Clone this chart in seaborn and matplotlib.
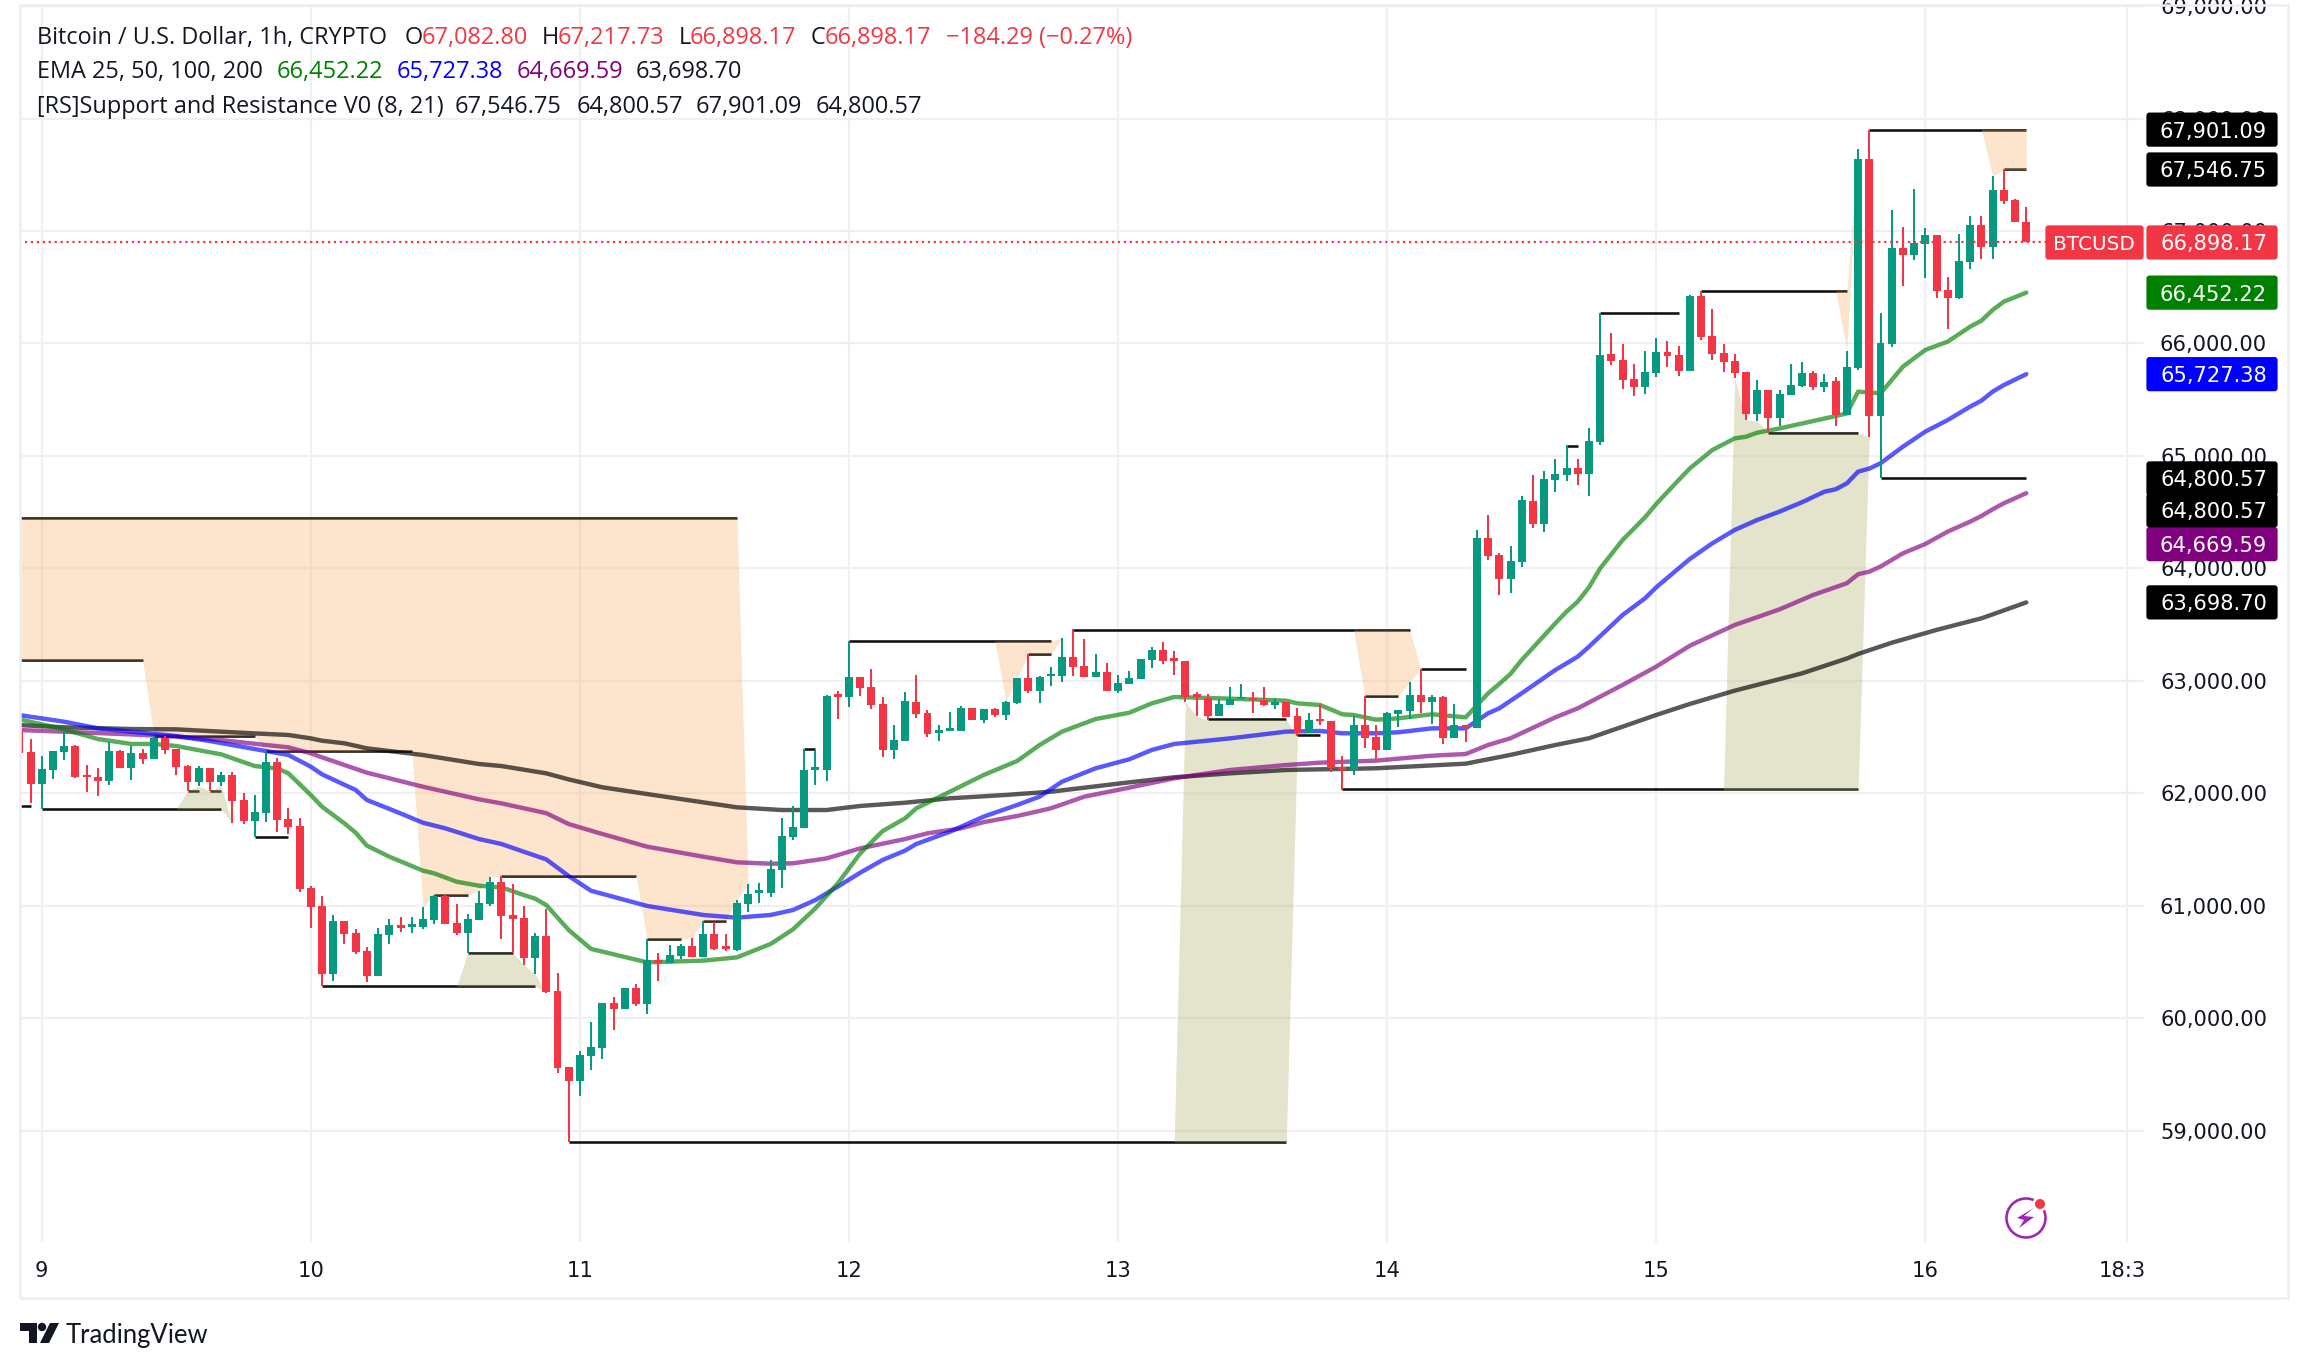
import numpy as np
import pandas as pd
import seaborn as sns
import matplotlib
matplotlib.use("Agg")
import matplotlib.pyplot as plt
from matplotlib.patches import Rectangle, FancyBboxPatch, Polygon, Circle
from matplotlib.transforms import IdentityTransform, ScaledTranslation

# ---------- data ----------
hours = list(range(-2, 178))
opens = [62564,62368,62084,62208,62368,62422,62164,62146,62111,62377,62226,62360,62306,62493,62395,62244,62102,62226,62102,62164,
         61942,61755,61826,62280,61773,61711,61160,61000,60395,60866,60759,60600,60377,60742,60831,60816,60813,60875,61088,60848,
         60759,60875,61017,61213,60920,60893,60537,60733,60244,59568,59444,59666,59738,60137,60084,60271,60129,60520,60493,60555,
         60644,60546,60751,60635,60609,61018,61118,61115,61320,61613,61693,62212,62209,62875,62858,63035,62946,62795,62386,62466,
         62813,62715,62541,62558,62555,62760,62653,62751,62698,62804,63026,62911,63044,63044,63213,63133,63036,63080,62911,62973,
         63018,63187,63276,63193,63178,62876,62849,62689,62787,62840,62849,62831,62787,62813,62689,62538,62662,62644,62230,62209,
         62609,62502,62387,62707,62733,62876,62813,62858,62493,62609,62583,64271,64120,63907,64058,64600,64396,64787,64832,64894,
         64840,65124,65906,65853,65684,65613,65737,65924,65897,65755,66422,66066,65915,65844,65746,65373,65586,65337,65542,65622,
         65737,65613,65666,65364,65783,67640,65359,65996,66849,66787,66885,66965,66476,66405,66725,67054,66858,67365,67276,67082.80]
highs = [62570,62484,62333,62377,62549,62431,62253,62226,62457,62386,62422,62395,62511,62511,62395,62253,62244,62226,62191,62191,
         62004,61986,62377,62315,61871,61782,61177,61088,60920,60866,60795,60635,60804,60884,60902,60902,60991,61097,61097,61017,
         60928,61133,61257,61266,61195,61000,60759,60973,60404,59568,59711,59969,60137,60191,60271,60306,60706,60582,60653,60662,
         60715,60866,60858,60751,61053,61195,61204,61409,61782,61889,62395,62386,62875,62911,63355,63035,63106,62858,62609,62902,
         63053,62742,62609,62724,62778,62760,62751,62760,62822,63026,63240,63044,63124,63382,63459,63373,63240,63160,63053,63089,
         63196,63302,63347,63267,63178,62902,62884,62840,62947,62973,62902,62947,62849,62813,62760,62716,62796,62644,62333,62689,
         62867,62609,62724,62742,62991,63107,62876,62867,62796,62609,64343,64476,64138,64200,64645,64832,64867,64974,65098,64974,
         65249,66268,66093,65995,65817,65933,66048,66022,65977,66431,66466,66306,65995,65906,65746,65675,65586,65586,65817,65835,
         65755,65728,65702,65933,67729,67901.09,66272,67187,67036,67374,67027,66965,66592,66974,67134,67134,67489,67546.75,67285,67217.73]
lows = [62363,61912,61862,62128,62297,62137,62013,61977,62075,62226,62120,62262,62306,62351,62164,62022,62066,62022,62066,61737,
        61728,61613,61746,61657,61640,61124,60804,60288,60333,60662,60573,60324,60377,60662,60768,60759,60795,60840,60840,60742,
        60582,60875,61000,60706,60582,60475,60395,60226,59515,58902,59311,59542,59640,59897,60084,60111,60040,60333,60493,60529,
        60546,60546,60609,60600,60600,60946,61026,61080,61160,61586,61693,62075,62111,62662,62769,62866,62751,62324,62306,62466,
        62671,62502,62466,62558,62555,62653,62626,62680,62653,62795,62893,62804,62956,62991,63044,63036,63036,62911,62893,62973,
        63018,63116,63151,63053,62813,62689,62653,62689,62787,62840,62716,62778,62751,62680,62511,62538,62609,62191,62031,62164,
        62404,62307,62387,62591,62662,62716,62618,62440,62493,62458,62583,64076,63765,63783,64014,64360,64325,64680,64778,64743,
        64645,65097,65808,65595,65533,65551,65702,65791,65711,65755,66031,65853,65746,65693,65320,65311,65204,65266,65542,65613,
        65586,65568,65266,65364,65765,65169,64800.57,65969,66512,66743,66583,66405,66129,66396,66663,66752,66752,67240,67080,66898.17]
closes = [62363,62084,62217,62377,62422,62146,62146,62111,62377,62226,62360,62306,62493,62386,62235,62102,62226,62102,62164,61933,
          61755,61835,62280,61764,61702,61151,60991,60395,60866,60751,60591,60377,60751,60831,60804,60831,60884,61088,60840,60759,
          60884,61026,61213,60911,60884,60537,60733,60235,59560,59444,59675,59746,60137,60084,60271,60129,60520,60493,60564,60644,
          60546,60751,60618,60618,61026,61106,61133,61329,61622,61702,62209,62226,62866,62858,63035,62938,62786,62386,62475,62822,
          62706,62529,62555,62573,62760,62653,62751,62698,62813,63026,62911,63036,63062,63213,63124,63036,63080,62911,62982,63027,
          63196,63276,63178,63178,62858,62858,62689,62796,62840,62852,62828,62787,62813,62680,62538,62653,62644,62227,62209,62609,
          62493,62387,62716,62742,62876,62813,62858,62493,62609,62591,64271,64111,63907,64067,64609,64396,64796,64840,64894,64840,
          65134,65897,65844,65675,65613,65746,65924,65888,65755,66422,66057,65906,65835,65737,65373,65586,65337,65551,65631,65737,
          65613,65657,65364,65791,67640,65359,66005,66849,66787,66894,66965,66467,66405,66734,67054,66858,67365,67267,67080,66898.17]

ema25_x = [-2,2,5,8,10,12,16,19,21,22,24,25,27,28,29,31,34,35,37,39,41,43,44,45,47,49,54,59,62,65,67,69,71,73,75,77,78,81,84,87,89,91,94,97,99,101,106,111,112,114,116,117,119,121,124,127,129,130,131,132,135,136,137,138,139,141,143,144,146,147,149,151,152,153,155,158,160,161,162,164,166,168,170,172,173,174,175,177]
ema25_y = [62659,62570,62484,62440,62440,62422,62348,62244,62223,62179,61986,61882,61734,61651,61536,61438,61314,61290,61216,61180,61165,61097,61065,61008,60786,60618,60499,60514,60543,60662,60792,60979,61201,61468,61666,61779,61868,62016,62164,62289,62431,62550,62662,62718,62801,62858,62843,62825,62801,62787,62704,62698,62656,62668,62704,62677,62890,62974,63063,63187,63513,63617,63706,63833,64002,64254,64455,64574,64787,64890,65053,65157,65171,65207,65245,65311,65355,65379,65572,65557,65794,65943,66017,66150,66203,66298,66372,66452.22]
ema50_x = [-2,2,5,8,12,15,19,22,24,25,28,29,32,34,36,39,41,43,45,47,49,54,59,62,65,67,69,71,73,75,77,78,81,84,87,89,91,94,97,99,101,106,111,114,116,119,121,124,127,129,130,132,135,136,137,138,141,143,144,146,147,149,151,153,155,157,159,160,161,162,163,164,166,168,170,172,173,174,175,177]
ema50_y = [62697,62638,62579,62549,62511,62466,62395,62342,62238,62170,62031,61942,61823,61740,61690,61595,61551,61482,61414,61266,61135,61000,60920,60896,60920,60964,61053,61172,61296,61409,61492,61551,61660,61794,61898,61972,62105,62224,62304,62387,62440,62490,62550,62556,62535,62535,62544,62579,62579,62713,62757,62891,63098,63157,63217,63305,63587,63735,63833,64002,64085,64224,64343,64431,64506,64589,64683,64704,64757,64861,64888,64935,65083,65217,65320,65439,65492,65572,65631,65727.38]
ema100_x = [-2,2,8,12,16,20,22,24,25,29,34,39,41,45,47,50,54,59,62,65,67,70,73,77,79,82,84,87,89,90,93,97,101,106,111,114,119,124,127,129,131,135,137,141,144,147,151,155,158,161,162,163,164,166,168,170,172,173,174,175,177]
ema100_y = [62564,62549,62525,62505,62475,62431,62410,62357,62321,62185,62060,61948,61912,61825,61728,61640,61527,61438,61388,61376,61379,61423,61512,61595,61646,61690,61745,61800,61845,61868,61972,62052,62135,62209,62253,62274,62292,62336,62351,62431,62491,62677,62757,62965,63128,63314,63498,63637,63765,63869,63949,63972,64017,64135,64218,64328,64417,64467,64526,64580,64669.59]
ema200_x = [-2,2,8,12,19,22,24,25,27,29,34,39,41,45,47,50,54,59,62,66,70,73,77,81,86,90,97,101,106,111,119,127,131,135,138,141,144,147,151,157,161,162,165,169,173,174,177]
ema200_y = [62608,62588,62573,62570,62534,62520,62490,62469,62446,62401,62342,62262,62244,62179,62125,62055,61995,61921,61877,61853,61853,61889,61918,61957,61987,62016,62099,62144,62179,62209,62224,62265,62343,62431,62491,62594,62698,62796,62914,63068,63200,63240,63340,63454,63557,63592,63698.70]

level_from = [-2,-2,10,20,-2,0,13,15,19,25,35,41,38,47,54,59,68,72,88,92,104,112,118,123,116,136,139,148,154,163,164,175]
level_to = [9,62,19,33,-1,16,14,16,22,44,38,53,42,111,57,61,69,90,90,122,111,114,121,127,162,137,146,161,162,177,177,177]
level_price = [63186,64449,62511,62377,61888,61862,62022,62022,61613,60288,61097,61266,60582,58902,60706,60866,62395,63355,63240,63453,62659,62517,62867,63107,62037,65089,66268,66466,65204,67901.09,64800.57,67546.75]

orange1_x = [-2,9,10,19,20,33,34,35,38,39,40,41,53,54,57,58,59,61,62,63]
orange1_lo = [63186,63186,62511,62511,62377,62377,60991,61097,61097,61133,61257,61266,61266,60706,60706,60715,60866,60866,61053,61195]
orange1_hi = [64449]*19 + [61195]
orange2_x = [85,86,87,88,90,91]
orange2_lo = [63355,62822,63026,63240,63240,63382]
orange2_hi = [63355,63355,63355,63355,63355,63382]
orange3_x = [117,118,121,122,123]
orange3_lo = [63453,62867,62867,62991,63107]
orange3_hi = [63453,63453,63453,63453,63107]
orange4_x = [160,161,162]
orange4_lo = [66466,65933,67729]
orange4_hi = [66466,66466,67729]
orange5_x = [173,174,175,177]
orange5_lo = [67901,67489,67546.75,67546.75]
orange5_hi = [67901,67901,67901,67901]
olive1_x = [12,13,14,15,16,17]
olive1_hi = [61862,62022,62066,62022,62066,61737]
olive1_lo = [61862,61862,61862,61862,61862,61737]
olive2_x = [37,38,42,43,44,45]
olive2_hi = [60288,60582,60582,60475,60395,60226]
olive2_lo = [60288,60288,60288,60288,60288,60226]
olive3_x = [101,102,103,104,111,112]
olive3_hi = [58902,62813,62689,62653,62653,62511]
olive3_lo = [58902,58902,58902,58902,58902,62511]
olive4_x = [150,151,152,153,154,162,163]
olive4_hi = [62031,65693,65320,65311,65204,65204,65169]
olive4_lo = [62031,62031,62031,62031,62031,62031,65169]

day_ticks = [0,24,48,72,96,120,144,168,186]
day_labels = ["9","10","11","12","13","14","15","16","18:3"]
price_ticks = [59000,60000,61000,62000,63000,64000,65000,66000,67000,68000,69000]

last_values = [67901.09,67546.75,66898.17,66452.22,65727.38,64800.57,64800.57,64669.59,63698.70]
last_texts = ["67,901.09","67,546.75","66,898.17","66,452.22","65,727.38","64,800.57","64,800.57","64,669.59","63,698.70"]
last_colors = ["#000000","#000000","#F23645","#008000","#0000FF","#000000","#000000","#800080","#000000"]
last_shift_px = [0,0,0,0,0,0,32,51,0]

# ---------- style ----------
sns.set_theme(style="white")
W, H = 2308, 1369
DPI = 100
INK = "#131722"
UP, DOWN = "#089981", "#F23645"
GRID = "#F0F0F3"
FRAME = "#EEEEF2"
HEAD = "Open Sans"
AXF = "DejaVu Sans"
px = 72 / DPI

fig = plt.figure(figsize=(W / DPI, H / DPI), dpi=DPI, facecolor="white")
AL, AR, AT, AB = 20, 2144, 5, 1242
ax = fig.add_axes([AL / W, 1 - AB / H, (AR - AL) / W, (AB - AT) / H])
ax.set_xlim(-1.94, 187.5)
ax.set_ylim(58013, 69009)
for s in ax.spines.values():
    s.set_visible(False)

ax.set_xticks(day_ticks)
ax.set_xticklabels(day_labels, fontsize=21 * px, color=INK, family=AXF)
ax.yaxis.tick_right()
ax.set_yticks(price_ticks)
ax.set_yticklabels([f"{p:,.2f}" for p in price_ticks], fontsize=21 * px, color=INK, family=AXF, ha="right")
ax.tick_params(axis="x", length=0, pad=19 * px)
ax.tick_params(axis="y", length=0, pad=123 * px)
ax.grid(True, color=GRID, lw=2.2 * px, zorder=0)
ax.set_axisbelow(True)

# levels (under the fills so that the fills tint them)
ax.hlines(level_price, level_from, level_to, color="#111111", lw=2.6 * px, zorder=2)

ORANGE, OLIVE = "#FCB26D", "#B2B26D"
for xs, lo, hi in [(orange1_x, orange1_lo, orange1_hi), (orange2_x, orange2_lo, orange2_hi),
                   (orange3_x, orange3_lo, orange3_hi), (orange4_x, orange4_lo, orange4_hi),
                   (orange5_x, orange5_lo, orange5_hi)]:
    ax.fill_between(xs, lo, hi, color=ORANGE, alpha=0.35, lw=0, zorder=3)
for xs, lo, hi in [(olive1_x, olive1_lo, olive1_hi), (olive2_x, olive2_lo, olive2_hi),
                   (olive3_x, olive3_lo, olive3_hi), (olive4_x, olive4_lo, olive4_hi)]:
    ax.fill_between(xs, lo, hi, color=OLIVE, alpha=0.35, lw=0, zorder=3)

# EMAs through seaborn
for xs, ys, col in [(ema200_x, ema200_y, "#000000"), (ema100_x, ema100_y, "#800080"),
                    (ema50_x, ema50_y, "#0000FF"), (ema25_x, ema25_y, "#008000")]:
    frame = pd.DataFrame({"hour": xs, "ema": ys})
    sns.lineplot(data=frame, x="hour", y="ema", color=col, alpha=0.65, lw=4.4 * px, ax=ax, zorder=4,
                 estimator=None, sort=False, legend=False)
ax.set_xlabel(""); ax.set_ylabel("")

# candles
ohlc = pd.DataFrame({"hour": hours, "open": opens, "high": highs, "low": lows, "close": closes})
ohlc["color"] = np.where(ohlc["close"] >= ohlc["open"], UP, DOWN)
ax.vlines(ohlc["hour"], ohlc["low"], ohlc["high"], colors=ohlc["color"], lw=2.0 * px, zorder=5)
body_low = ohlc[["open", "close"]].min(axis=1)
body_h = (ohlc["open"] - ohlc["close"]).abs().clip(lower=22)
ax.bar(ohlc["hour"], body_h, bottom=body_low, width=0.71, color=ohlc["color"], lw=0, zorder=5)

# last price line
ax.plot([-2, 180.2], [66898.17, 66898.17], color=DOWN, lw=2.2 * px, ls=(0, (1, 1.7)), zorder=5)

# the clipped time label sits a little left of its grid line
last_tick = ax.get_xticklabels()[-1]
last_tick.set_transform(last_tick.get_transform() + ScaledTranslation(-5 / DPI, 0, fig.dpi_scale_trans))

ident = IdentityTransform()
def fy(y):
    return H - y

fig.canvas.draw()
# last value tags
order = [7, 5, 6, 8, 0, 1, 4, 3, 2]
for i in order:
    yp = ax.transData.transform((0, last_values[i]))[1] - last_shift_px[i]
    fig.add_artist(FancyBboxPatch((2148, yp - 15.5), 128, 31, boxstyle="round,pad=1.6,rounding_size=3",
                                  fc=last_colors[i], ec="none", transform=ident, zorder=20))
    fig.text(2267 / W, yp / H, last_texts[i], color="white", fontsize=21 * px, family=AXF,
             ha="right", va="center_baseline", zorder=21)
yp = ax.transData.transform((0, 66898.17))[1]
fig.add_artist(FancyBboxPatch((2047, yp - 15.5), 95, 31, boxstyle="round,pad=1.6,rounding_size=3",
                              fc=DOWN, ec="none", transform=ident, zorder=20))
fig.text(2094 / W, yp / H, "BTCUSD", color="white", fontsize=20 * px, family=AXF, ha="center",
         va="center_baseline", zorder=21)

# header
HF = 23.5 * px
def head(x, y, s, c=INK):
    fig.text(x / W, fy(y) / H, s, color=c, fontsize=HF, family=HEAD, ha="left", va="center_baseline", zorder=20)
L1, L2, L3 = 35, 69, 104
head(37, L1, "Bitcoin / U.S. Dollar, 1h, CRYPTO")
head(405, L1, "O"); head(422, L1, "67,082.80", DOWN)
head(542, L1, "H"); head(558, L1, "67,217.73", DOWN)
head(679, L1, "L"); head(690, L1, "66,898.17", DOWN)
head(811, L1, "C"); head(825, L1, "66,898.17", DOWN)
head(946, L1, "−184.29 (−0.27%)", DOWN)
head(37, L2, "EMA 25, 50, 100, 200")
head(277, L2, "66,452.22", "#008000"); head(397, L2, "65,727.38", "#0000FF")
head(517, L2, "64,669.59", "#800080"); head(636, L2, "63,698.70", INK)
head(37, L3, "[RS]Support and Resistance V0 (8, 21)")
head(455, L3, "67,546.75"); head(577, L3, "64,800.57")
head(696, L3, "67,901.09"); head(816, L3, "64,800.57")

# outer frame
fig.add_artist(Rectangle((20, fy(1298)), 2268, 1293, fill=False, ec=FRAME, lw=2.6 * px, transform=ident, zorder=15))

# TradingView logo
def pts(seq):
    return [(x, fy(y)) for x, y in seq]
LOGO = "#131722"
fig.add_artist(Polygon(pts([(20, 1323), (37, 1323), (37, 1343), (29, 1343), (29, 1331), (20, 1331)]),
                       fc=LOGO, ec="none", transform=ident))
fig.add_artist(Circle((42, fy(1327)), 4.2, fc=LOGO, ec="none", transform=ident))
fig.add_artist(Polygon(pts([(50, 1323), (59, 1323), (49, 1343), (40, 1343)]), fc=LOGO, ec="none", transform=ident))
fig.text(66 / W, fy(1333) / H, "TradingView", color=LOGO, fontsize=25.6 * px, family="Lato", ha="left",
         va="center_baseline")

# lightning icon
cx, cy = 2026, fy(1218)
fig.add_artist(Circle((cx, cy), 19.5, fill=False, ec="#9C27B0", lw=2.6 * px, transform=ident, zorder=16))
fig.add_artist(Polygon(pts([(2034, 1208), (2024, 1216), (2034, 1217), (2019, 1228), (2024, 1220), (2017, 1218)]),
                       fc="#9C27B0", ec="none", transform=ident, zorder=16))
fig.add_artist(Circle((2040, fy(1204)), 7.5, fc="white", ec="none", transform=ident, zorder=17))
fig.add_artist(Circle((2040, fy(1204)), 5, fc=DOWN, ec="none", transform=ident, zorder=18))

fig.savefig("out.png", dpi=DPI, facecolor="white")
